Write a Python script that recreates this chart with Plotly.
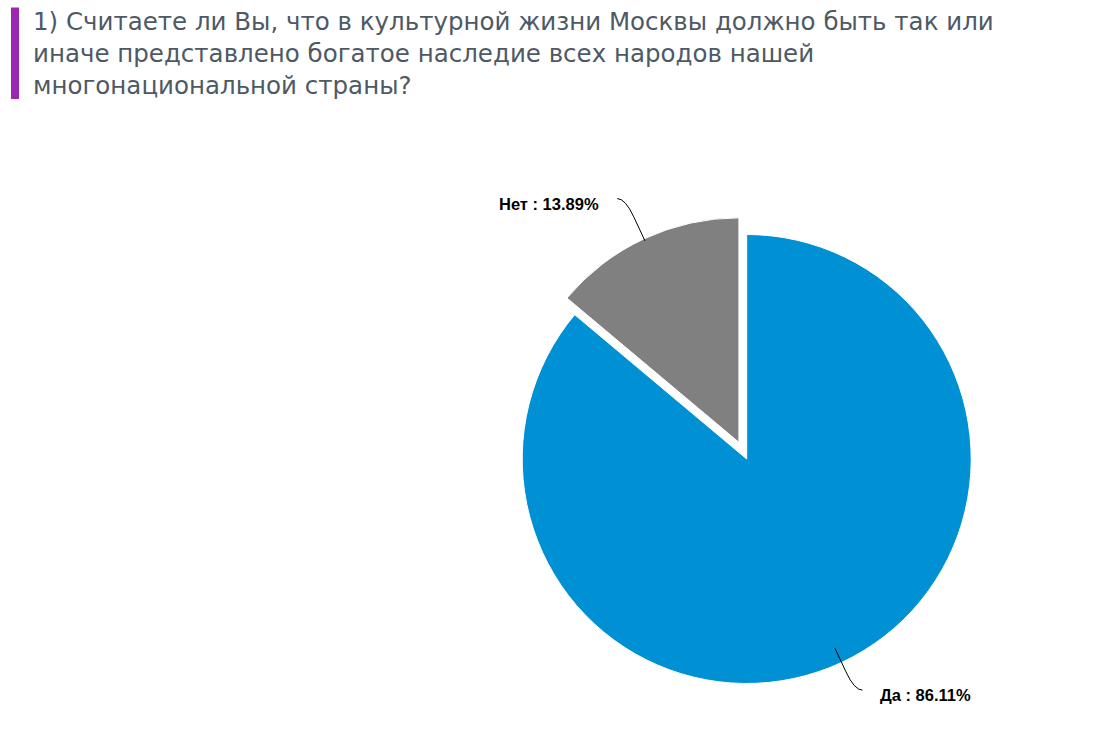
import math
import plotly.graph_objects as go

# ---- data ----
labels = ["Да", "Нет"]
values = [86.11, 13.89]
colors = ["#0090d4", "#808080"]
pulls = [0.0, 0.082]
title_lines = [
    "1) Считаете ли Вы, что в культурной жизни Москвы должно быть так или",
    "иначе представлено богатое наследие всех народов нашей",
    "многонациональной страны?",
]

W, H = 1104, 755
CX, CY, R = 746.7, 459.0, 224.5  # pie centre / radius in pixels

max_pull = max(pulls)
half = R * (1 + max_pull)
dom_x = [(CX - half) / W, (CX + half) / W]
y0 = 1 - (CY + half) / H
dom_y = [y0, y0 + 2 * half / H]


def px(x):
    return x / W


def py(y):
    return 1 - y / H


fig = go.Figure(
    go.Pie(
        labels=labels,
        values=values,
        marker=dict(colors=colors, line=dict(color="white", width=1)),
        pull=pulls,
        sort=False,
        direction="clockwise",
        rotation=0,
        textinfo="none",
        hoverinfo="label+percent",
        domain=dict(x=dom_x, y=dom_y),
        showlegend=False,
    )
)

# connector styles per slice (start radius, curve corner as fraction of R)
conn_start = [0.93, 0.99]
conn_corner = [1.136, 1.198]

total = sum(values)
cum = 0.0
shapes = []
annotations = []
for lab, v, p, cs, cc in zip(labels, values, pulls, conn_start, conn_corner):
    a = (cum + v / 2) / total * 2 * math.pi
    cum += v
    ux, uy = math.sin(a), -math.cos(a)
    cx, cy = CX + p * R * ux, CY + p * R * uy
    sx, sy = cx + cs * R * ux, cy + cs * R * uy
    mx, my = cx + (cc - 0.09) * R * ux, cy + (cc - 0.09) * R * uy
    kx, ky = cx + cc * R * ux, cy + cc * R * uy
    side = 1 if ux > 0 else -1
    ex, ey = kx + side * 8, ky
    path = (f"M {px(sx)},{py(sy)} L {px(mx)},{py(my)} "
            f"Q {px(kx)},{py(ky)} {px(ex)},{py(ey)}")
    shapes.append(dict(type="path", path=path, xref="paper", yref="paper",
                       line=dict(color="black", width=1)))
    annotations.append(dict(
        text=f"<b>{lab} : {v:.2f}%</b>",
        x=px(ex + side * 16), y=py(ey + 5), xref="paper", yref="paper",
        xanchor="left" if side > 0 else "right", yanchor="middle",
        showarrow=False,
        font=dict(family="Liberation Sans, Arial", size=16.5, color="black"),
    ))

# title bar
shapes.append(dict(type="rect", xref="paper", yref="paper",
                   x0=px(11), x1=px(19), y0=py(99), y1=py(7.5),
                   fillcolor="#9c27b0", line=dict(width=0)))

annotations.append(dict(
    text="<br>".join(title_lines),
    x=px(31), y=py(5), xref="paper", yref="paper",
    xanchor="left", yanchor="top", align="left", showarrow=False,
    font=dict(family="DejaVu Sans", size=24.5, color="#4e5966"),
))

fig.update_layout(
    width=W, height=H,
    margin=dict(l=0, r=0, t=0, b=0),
    paper_bgcolor="white", plot_bgcolor="white",
    shapes=shapes, annotations=annotations,
)

fig.write_html("out.html")
